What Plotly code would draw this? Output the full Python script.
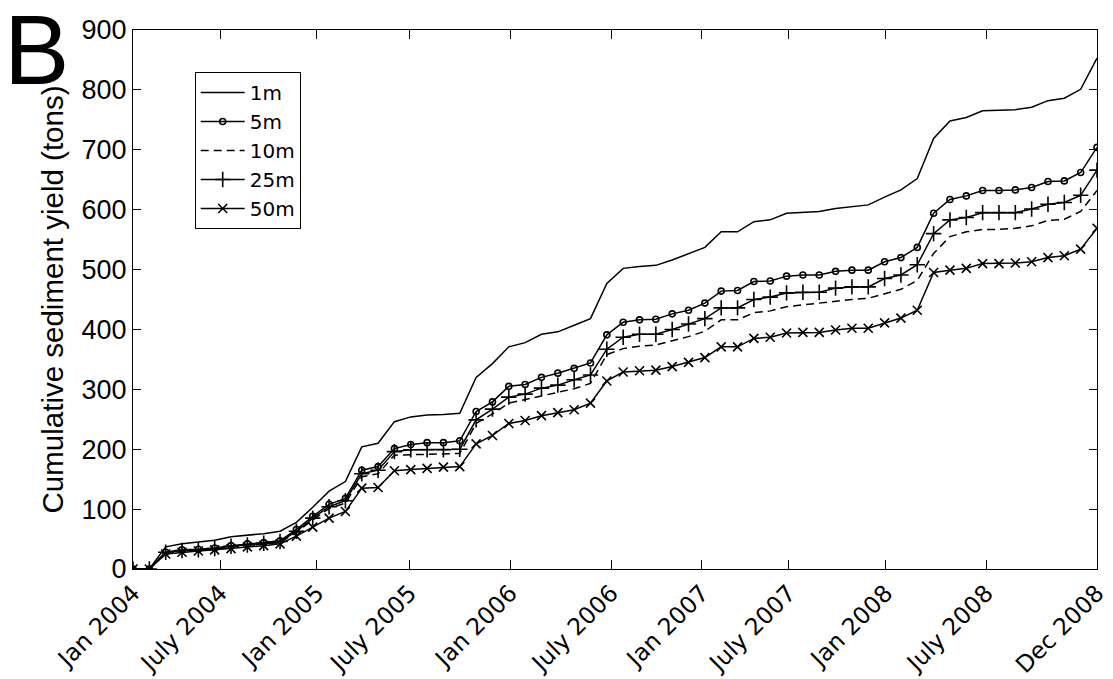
import plotly.graph_objects as go

# month index (monthly samples, Jan 2004 .. Dec 2008)
months = list(range(60))

y_1m = [0, 0, 37, 42, 45, 48, 54, 56, 59, 63, 78, 103, 130, 146, 204, 210, 246, 254, 257, 258,
        260, 320, 343, 371, 378, 392, 396, 407, 418, 477, 502, 505, 507, 516, 527, 537, 563, 563, 580, 583,
        594, 595, 597, 602, 605, 608, 621, 633, 652, 719, 748, 754, 765, 766, 767, 771, 782, 786, 801, 853]
y_5m = [0, 0, 28, 32, 33, 35, 39, 42, 44, 47, 66, 88, 108, 118, 165, 171, 201, 208, 211, 211,
        214, 263, 279, 305, 308, 320, 327, 335, 344, 391, 412, 416, 417, 426, 432, 444, 464, 465, 480, 481,
        489, 491, 491, 497, 499, 499, 513, 520, 537, 594, 617, 623, 632, 632, 633, 637, 647, 648, 662, 704]
y_10m = [0, 0, 27, 30, 31, 33, 37, 39, 41, 44, 61, 82, 101, 110, 154, 159, 190, 191, 192, 192,
         193, 243, 259, 277, 283, 289, 294, 301, 310, 358, 368, 372, 374, 381, 388, 397, 416, 416, 428, 431,
         438, 441, 444, 448, 450, 452, 460, 467, 482, 527, 555, 563, 567, 567, 569, 573, 582, 584, 597, 632]
y_25m = [0, 0, 28, 31, 32, 34, 38, 40, 43, 46, 63, 85, 104, 114, 159, 165, 196, 199, 199, 199,
         200, 249, 267, 287, 292, 302, 307, 316, 324, 367, 387, 392, 392, 400, 409, 418, 436, 436, 450, 454,
         461, 462, 462, 469, 471, 471, 485, 491, 508, 560, 583, 587, 595, 595, 595, 601, 609, 612, 624, 666]
y_50m = [0, 0, 25, 28, 30, 32, 34, 37, 39, 42, 55, 70, 85, 96, 135, 136, 164, 166, 168, 170,
         171, 209, 223, 243, 248, 256, 261, 266, 277, 314, 329, 331, 332, 338, 345, 353, 371, 371, 385, 387,
         394, 395, 395, 399, 402, 402, 411, 419, 432, 495, 499, 502, 510, 510, 511, 513, 520, 523, 534, 569]

tick_labels = ["Jan 2004", "July 2004", "Jan 2005", "July 2005", "Jan 2006", "July 2006",
               "Jan 2007", "July 2007", "Jan 2008", "July 2008", "Dec 2008"]
tick_pos = [0, 5.34, 11.26, 16.93, 23.09, 29.27, 34.81, 40.13, 46.07, 52.22, 59]

y_ticks = [0, 100, 200, 300, 400, 500, 600, 700, 800, 900]

series = [
    ("1m", y_1m, "solid", None, 0),
    ("5m", y_5m, "solid", "circle-open", 6),
    ("10m", y_10m, "8px,5px", None, 0),
    ("25m", y_25m, "solid", "cross-thin-open", 11),
    ("50m", y_50m, "solid", "x-thin-open", 9),
]

fig = go.Figure()
for name, ys, dash, sym, size in series:
    if sym:
        fig.add_trace(go.Scatter(
            x=months, y=ys, name=name, mode="lines+markers",
            line=dict(color="black", width=1.5, dash=dash),
            marker=dict(symbol=sym, size=size, color="black",
                        line=dict(color="black", width=1.6)),
        ))
    else:
        fig.add_trace(go.Scatter(
            x=months, y=ys, name=name, mode="lines",
            line=dict(color="black", width=1.5, dash=dash),
        ))

fig.update_layout(
    width=1113, height=679,
    margin=dict(l=133, r=16, t=30, b=110, autoexpand=False),
    paper_bgcolor="white", plot_bgcolor="white",
    showlegend=True,
    legend=dict(
        x=0.064, y=0.922, xanchor="left", yanchor="top",
        bgcolor="white", bordercolor="black", borderwidth=1,
        font=dict(family="DejaVu Sans", size=20, color="black"),
        tracegroupgap=0, itemwidth=44,
    ),
    font=dict(family="Liberation Sans, Arial", color="black"),
)

fig.update_xaxes(
    range=[0, 59], tickmode="array", tickvals=tick_pos, ticktext=tick_labels,
    tickangle=-45, ticks="inside", ticklen=9, tickcolor="black",
    showline=True, linecolor="black", linewidth=1, mirror="ticks",
    showgrid=False, zeroline=False, automargin=False,
    tickfont=dict(family="DejaVu Sans", size=23.5, color="black"),
)
fig.update_yaxes(
    range=[0, 900], tickmode="array", tickvals=y_ticks,
    ticks="inside", ticklen=8, tickcolor="black",
    showline=True, linecolor="black", linewidth=1, mirror="ticks",
    showgrid=False, zeroline=False, automargin=False,
    tickfont=dict(family="Liberation Sans, Arial", size=27, color="black"),
    title=dict(text="Cumulative sediment yield (tons)",
               font=dict(family="Liberation Sans, Arial", size=29.5, color="black"),
               standoff=9),
)

fig.add_annotation(
    text="B", xref="paper", yref="paper", x=-0.1, y=0.962,
    xanchor="center", yanchor="middle", showarrow=False,
    font=dict(family="Liberation Sans, Arial", size=98, color="black"),
)

fig.write_html("out.html")
